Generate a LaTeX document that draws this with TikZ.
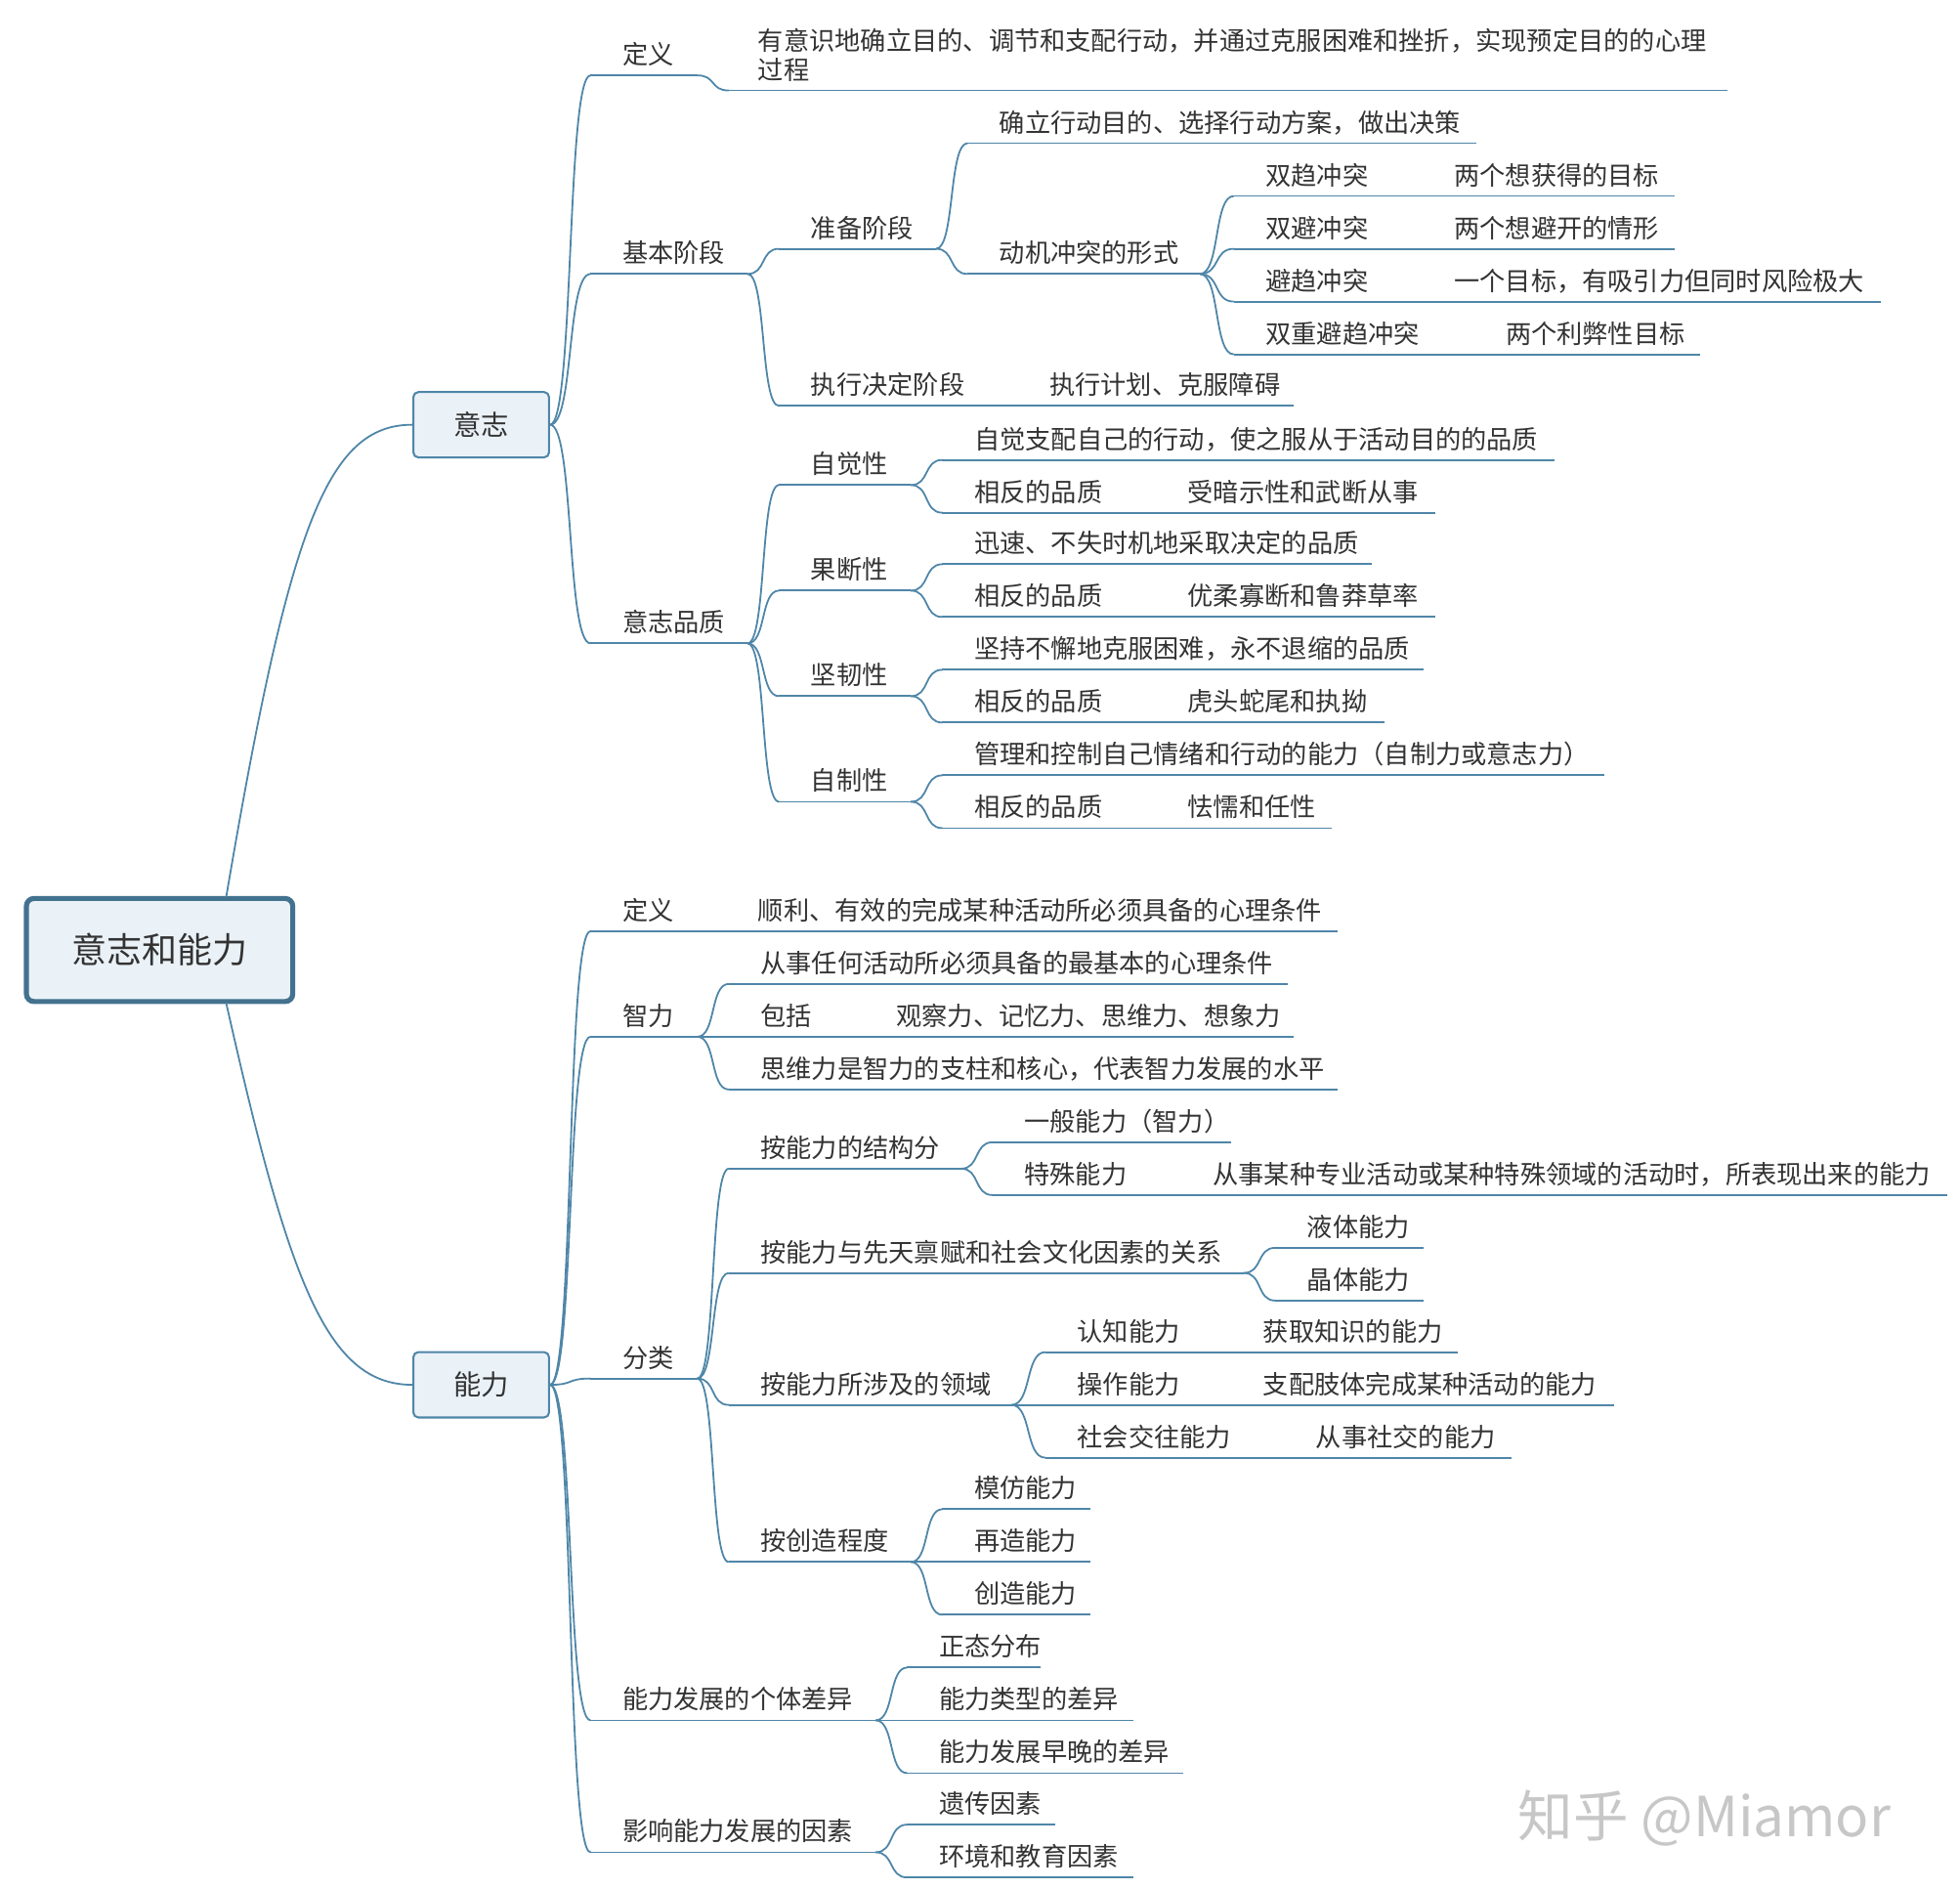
\documentclass[tikz,border=0pt]{standalone}
\usepackage{fontspec}
\setmainfont{Noto Sans CJK SC}
\usetikzlibrary{calc}
\definecolor{ln}{HTML}{4F86A8}
\definecolor{bx}{HTML}{EAF2F8}
\definecolor{tx}{HTML}{333333}
\tikzset{
 ul/.style={draw=ln,line width=0.7pt},
 conn/.style={draw=ln,line width=0.7pt},
 txt/.style={anchor=base west,inner sep=0pt,text=tx,font=\fontsize{10.2}{12}\selectfont},
 topic/.style={draw=ln,fill=bx,rounded corners=2pt,line width=0.8pt,text=tx,font=\fontsize{11}{13}\selectfont,minimum width=54pt,minimum height=26pt},
}
\newcommand\leaf[5]{\coordinate (#1L) at (#2,#4); \coordinate (#1R) at (#3,#4); \draw[ul] (#1L)--(#1R); \node[txt] (#1) at (#2+25,#4-9) {#5};}
\newcommand\extra[4]{\node[txt] (#1) at (#2,#3-9) {#4};}
\newcommand\conn[2]{\draw[conn] let \p1=(#1),\p2=(#2),\n1={0.6*(\x2-\x1)} in (\p1) .. controls (\x1+\n1,\y1) and (\x2-\n1,\y2) .. (\p2);}
\begin{document}
\begin{tikzpicture}[x=0.5pt,y=-0.5pt]
\useasboundingbox (0,0) rectangle (1560,1503);
% root
\node[draw=ln!85!black,fill=bx,line width=2pt,rounded corners=3pt,minimum width=106pt,minimum height=41pt,text=tx,font=\fontsize{14}{16}\selectfont] (root) at (127,756) {意志和能力};
\node[topic] (yz) at (383,338) {意志};
\node[topic] (nl) at (383,1102) {能力};
\coordinate (rt) at (180,714);
\coordinate (rb) at (180,798);
\draw[conn] (rt) .. controls (230,420) and (260,338) .. (yz.west);
\draw[conn] (rb) .. controls (230,1020) and (260,1102) .. (nl.west);
\coordinate (yzE) at (yz.east);
\coordinate (nlE) at (nl.east);
% ===== 意志
\leaf{dy}{470}{555}{60}{定义}
\leaf{dyt}{580}{1375}{72}{}
\node[txt,anchor=north west,align=left,text width=380pt] (dytx) at (603,22) {有意识地确立目的、调节和支配行动，并通过克服困难和挫折，实现预定目的的心理\\过程};
\conn{yzE}{dyL}\conn{dyR}{dytL}
\leaf{jb}{470}{595}{218}{基本阶段}\conn{yzE}{jbL}
\leaf{zb}{620}{745}{198}{准备阶段}\conn{jbR}{zbL}
\leaf{ql}{770}{1175}{114}{确立行动目的、选择行动方案，做出决策}\conn{zbR}{qlL}
\leaf{dj}{770}{955}{218}{动机冲突的形式}\conn{zbR}{djL}
\leaf{sq}{982}{1333}{156}{双趋冲突}\extra{sq2}{1157}{156}{两个想获得的目标}\conn{djR}{sqL}
\leaf{sb}{982}{1333}{198}{双避冲突}\extra{sb2}{1157}{198}{两个想避开的情形}\conn{djR}{sbL}
\leaf{bq}{982}{1497}{240}{避趋冲突}\extra{bq2}{1157}{240}{一个目标，有吸引力但同时风险极大}\conn{djR}{bqL}
\leaf{sc}{982}{1353}{282}{双重避趋冲突}\extra{sc2}{1198}{282}{两个利弊性目标}\conn{djR}{scL}
\leaf{zx}{620}{1030}{323}{执行决定阶段}\extra{zx2}{835}{323}{执行计划、克服障碍}\conn{jbR}{zxL}
\leaf{pz}{470}{595}{512}{意志品质}\conn{yzE}{pzL}
\leaf{zj}{620}{725}{386}{自觉性}\conn{pzR}{zjL}
\leaf{zja}{750}{1237}{366}{自觉支配自己的行动，使之服从于活动目的的品质}\conn{zjR}{zjaL}
\leaf{zjb}{750}{1142}{408}{相反的品质}\extra{zjb2}{945}{408}{受暗示性和武断从事}\conn{zjR}{zjbL}
\leaf{gd}{620}{725}{470}{果断性}\conn{pzR}{gdL}
\leaf{gda}{750}{1092}{449}{迅速、不失时机地采取决定的品质}\conn{gdR}{gdaL}
\leaf{gdb}{750}{1142}{491}{相反的品质}\extra{gdb2}{945}{491}{优柔寡断和鲁莽草率}\conn{gdR}{gdbL}
\leaf{jr}{620}{725}{554}{坚韧性}\conn{pzR}{jrL}
\leaf{jra}{750}{1133}{533}{坚持不懈地克服困难，永不退缩的品质}\conn{jrR}{jraL}
\leaf{jrb}{750}{1102}{575}{相反的品质}\extra{jrb2}{945}{575}{虎头蛇尾和执拗}\conn{jrR}{jrbL}
\leaf{zz}{620}{725}{638}{自制性}\conn{pzR}{zzL}
\leaf{zza}{750}{1277}{617}{管理和控制自己情绪和行动的能力（自制力或意志力）}\conn{zzR}{zzaL}
\leaf{zzb}{750}{1060}{659}{相反的品质}\extra{zzb2}{945}{659}{怯懦和任性}\conn{zzR}{zzbL}
% ===== 能力
\leaf{nd}{470}{1065}{741}{定义}\extra{nd2}{603}{741}{顺利、有效的完成某种活动所必须具备的心理条件}\conn{nlE}{ndL}
\leaf{zl}{470}{555}{825}{智力}\conn{nlE}{zlL}
\leaf{zla}{580}{1025}{783}{从事任何活动所必须具备的最基本的心理条件}\conn{zlR}{zlaL}
\leaf{zlb}{580}{1030}{825}{包括}\extra{zlb2}{713}{825}{观察力、记忆力、思维力、想象力}\conn{zlR}{zlbL}
\leaf{zlc}{580}{1065}{867}{思维力是智力的支柱和核心，代表智力发展的水平}\conn{zlR}{zlcL}
\leaf{fl}{470}{555}{1097}{分类}\conn{nlE}{flL}
\leaf{jg}{580}{765}{930}{按能力的结构分}\conn{flR}{jgL}
\leaf{jga}{790}{980}{909}{一般能力（智力）}\conn{jgR}{jgaL}
\leaf{jgb}{790}{1550}{951}{特殊能力}\extra{jgb2}{965}{951}{从事某种专业活动或某种特殊领域的活动时，所表现出来的能力}\conn{jgR}{jgbL}
\leaf{xt}{580}{990}{1013}{按能力与先天禀赋和社会文化因素的关系}\conn{flR}{xtL}
\leaf{xta}{1015}{1133}{993}{液体能力}\conn{xtR}{xtaL}
\leaf{xtb}{1015}{1133}{1035}{晶体能力}\conn{xtR}{xtbL}
\leaf{ly}{580}{805}{1118}{按能力所涉及的领域}\conn{flR}{lyL}
\leaf{lya}{832}{1160}{1076}{认知能力}\extra{lya2}{1005}{1076}{获取知识的能力}\conn{lyR}{lyaL}
\leaf{lyb}{832}{1285}{1118}{操作能力}\extra{lyb2}{1005}{1118}{支配肢体完成某种活动的能力}\conn{lyR}{lybL}
\leaf{lyc}{832}{1203}{1160}{社会交往能力}\extra{lyc2}{1047}{1160}{从事社交的能力}\conn{lyR}{lycL}
\leaf{cz}{580}{725}{1243}{按创造程度}\conn{flR}{czL}
\leaf{cza}{750}{868}{1201}{模仿能力}\conn{czR}{czaL}
\leaf{czb}{750}{868}{1243}{再造能力}\conn{czR}{czbL}
\leaf{czc}{750}{868}{1285}{创造能力}\conn{czR}{czcL}
\leaf{gt}{470}{697}{1369}{能力发展的个体差异}\conn{nlE}{gtL}
\leaf{gta}{722}{828}{1327}{正态分布}\conn{gtR}{gtaL}
\leaf{gtb}{722}{902}{1369}{能力类型的差异}\conn{gtR}{gtbL}
\leaf{gtc}{722}{942}{1411}{能力发展早晚的差异}\conn{gtR}{gtcL}
\leaf{ys}{470}{697}{1474}{影响能力发展的因素}\conn{nlE}{ysL}
\leaf{ysa}{722}{840}{1452}{遗传因素}\conn{ysR}{ysaL}
\leaf{ysb}{722}{902}{1494}{环境和教育因素}\conn{ysR}{ysbL}
% watermark
\node[anchor=west,inner sep=0pt,text=black!22,font=\fontsize{22}{24}\selectfont] (wm) at (1208,1447) {知乎 @Miamor};
\end{tikzpicture}
\end{document}
